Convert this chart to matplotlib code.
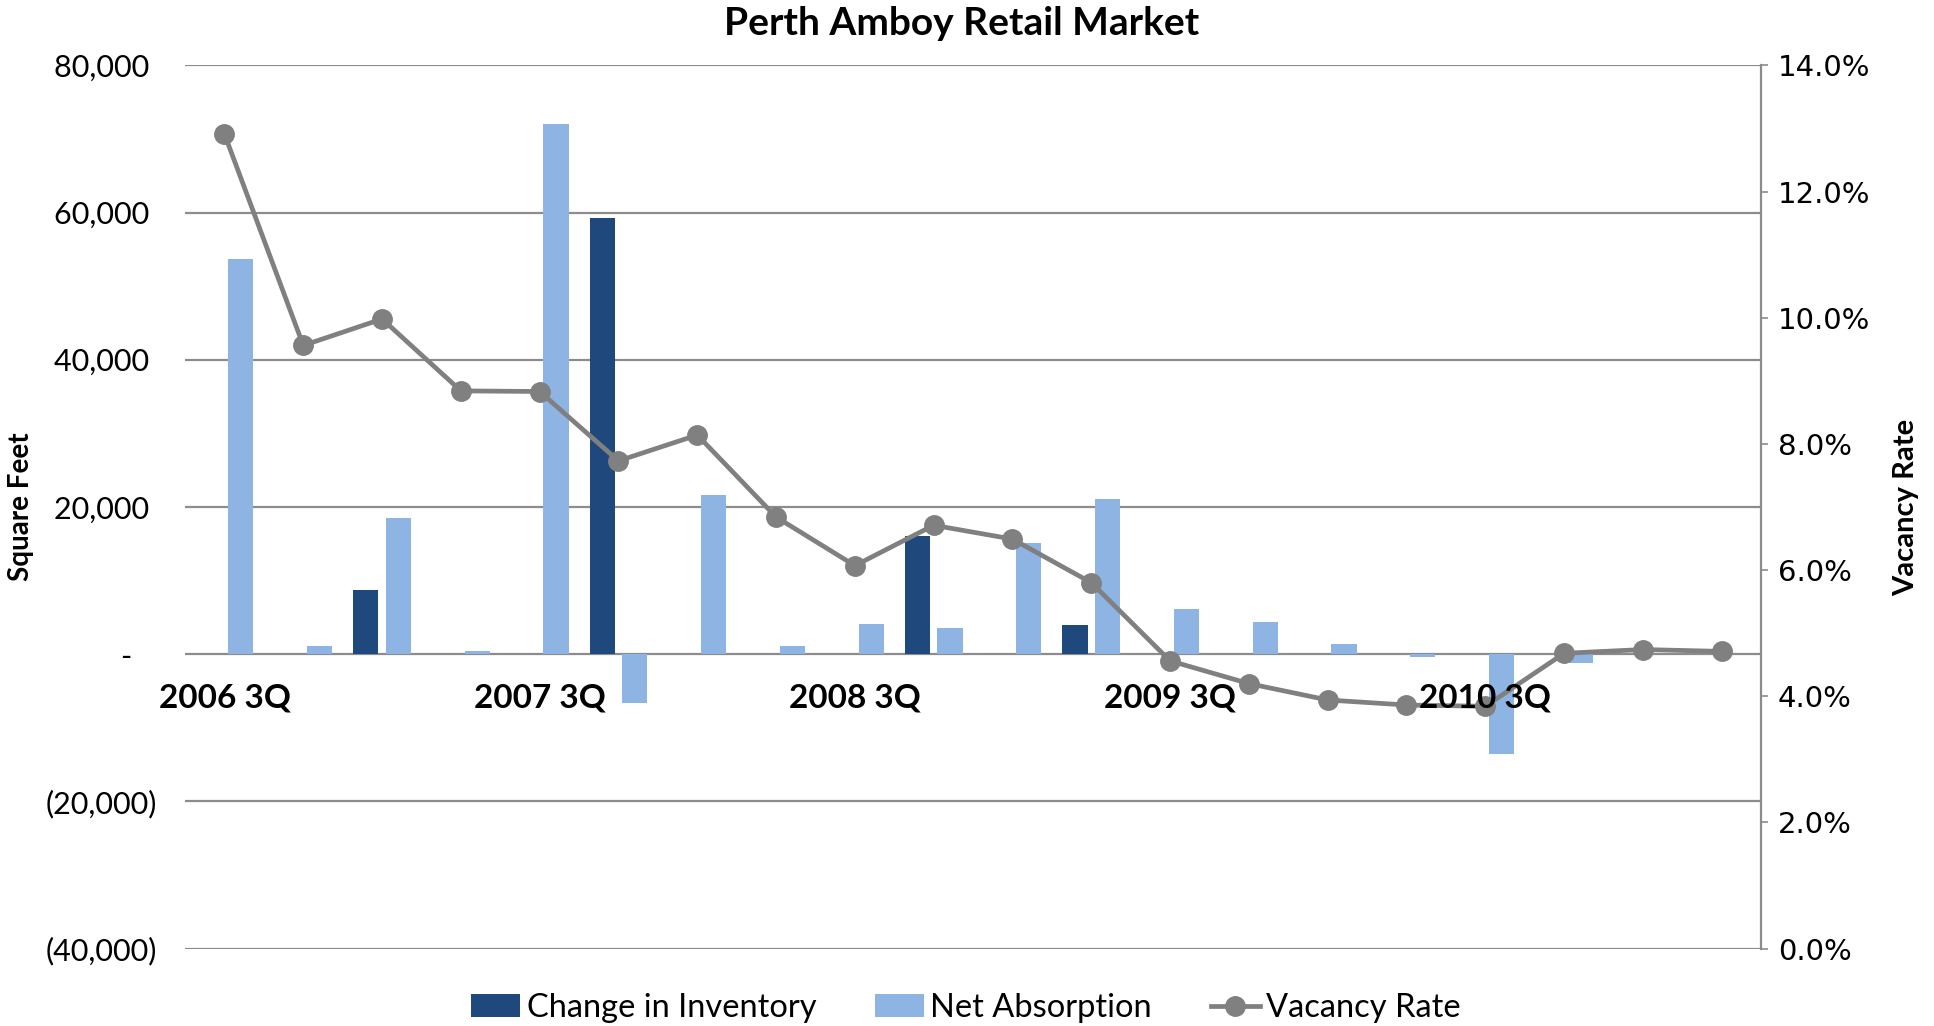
import matplotlib
matplotlib.use('Agg')
import matplotlib.pyplot as plt
from matplotlib.ticker import FuncFormatter, PercentFormatter
import numpy as np

plt.rcParams['font.family'] = ['Lato', 'DejaVu Sans']

quarters = ['2006 3Q', '2006 4Q', '2007 1Q', '2007 2Q',
            '2007 3Q', '2007 4Q', '2008 1Q', '2008 2Q',
            '2008 3Q', '2008 4Q', '2009 1Q', '2009 2Q',
            '2009 3Q', '2009 4Q', '2010 1Q', '2010 2Q',
            '2010 3Q', '2010 4Q', '2011 1Q', '2011 2Q']

# square feet
inventory_change = [0, 0, 8650, 0, 0, 59200, 0, 0, 0, 16000,
                    0, 3900, 0, 0, 0, 0, 0, 0, 0, 0]
net_absorption = [53700, 1100, 18500, 400, 72000, -6650, 21650, 1150, 4150, 3500,
                  15100, 21100, 6100, 4350, 1350, -370, -13600, -1230, 0, 0]

# percent
vacancy_rate = [12.91, 9.56, 9.98, 8.84, 8.83, 7.73, 8.14, 6.84, 6.07, 6.71,
                6.49, 5.80, 4.56, 4.20, 3.94, 3.86, 3.84, 4.68, 4.74, 4.71]

dark_blue = '#1F497D'
light_blue = '#8DB4E2'
grey = '#808080'
grid_grey = '#8C8C8C'

sf_lim = (-40000, 80000)
vac_lim = (0, 14)

fig = plt.figure(figsize=(19.34, 10.26), dpi=100)
ax = fig.add_axes([0.0957, 0.0755, 0.8149, 0.8608])
ax2 = ax.twinx()

x = np.arange(len(quarters))
w = 0.32
ax.bar(x - 0.207, inventory_change, w, color=dark_blue, label='Change in Inventory', zorder=2)
ax.bar(x + 0.207, net_absorption, w, color=light_blue, label='Net Absorption', zorder=2)

ax2.plot(x, vacancy_rate, color=grey, lw=3.4, marker='o', markersize=14,
         label='Vacancy Rate', zorder=2)

ax.set_xlim(-0.5, len(quarters) - 0.5)
ax.set_ylim(*sf_lim)
ax2.set_ylim(*vac_lim)

# left axis: accounting style numbers
def sf_fmt(v, pos):
    if v == 0:
        return '-\u2007 '
    if v < 0:
        return '({:,.0f})'.format(-v)
    return '{:,.0f} '.format(v)

ax.set_yticks(np.arange(-40000, 80001, 20000))
ax.yaxis.set_major_formatter(FuncFormatter(sf_fmt))
ax.tick_params(axis='y', length=0, pad=20, labelsize=22)
ax.yaxis.grid(True, color=grid_grey, lw=1.6)
ax.set_axisbelow(True)
for s in ax.spines.values():
    s.set_visible(False)

ax2.set_yticks(np.arange(0, 14.1, 2))
ax2.yaxis.set_major_formatter(PercentFormatter(decimals=1))
ax2.tick_params(axis='y', length=5, width=1.2, color=grid_grey, pad=7)
for lbl in ax2.get_yticklabels():
    lbl.set_family('DejaVu Sans')
    lbl.set_fontsize(21)
for side in ['left', 'top', 'bottom']:
    ax2.spines[side].set_visible(False)
ax2.spines['right'].set_color(grid_grey)
ax2.spines['right'].set_linewidth(1.6)

# category labels sit on the zero line of the square-feet axis, above the line
zero_on_vac = vac_lim[0] + (0 - sf_lim[0]) / (sf_lim[1] - sf_lim[0]) * (vac_lim[1] - vac_lim[0])
ax2.set_axisbelow(False)
ax2.xaxis.set_visible(True)
ax2.spines['bottom'].set_position(('data', zero_on_vac))
ax2.set_xticks(x[::4], [quarters[i] for i in x[::4]], fontweight='bold')
ax2.tick_params(axis='x', length=0, pad=21, labelsize=24)
ax.tick_params(axis='x', length=0, labelbottom=False)

ax.set_ylabel('Square Feet', fontsize=20, fontweight='bold')
ax.yaxis.set_label_coords(-0.096, 0.5)
ax2.set_ylabel('Vacancy Rate', fontsize=21, fontweight='bold')
ax2.yaxis.set_label_coords(1.084, 0.5)

fig.text(0.497, 0.966, 'Perth Amboy Retail Market', ha='center', va='baseline',
         fontsize=28, fontweight='bold')

h1, l1 = ax.get_legend_handles_labels()
h2, l2 = ax2.get_legend_handles_labels()
fig.legend(h1 + h2, l1 + l2, loc='center', bbox_to_anchor=(0.4995, 0.0175), ncol=3,
           frameon=False, fontsize=23.5, handlelength=1.5, handletextpad=0.2,
           columnspacing=1.8, numpoints=1)

fig.savefig('out.png', dpi=100)
